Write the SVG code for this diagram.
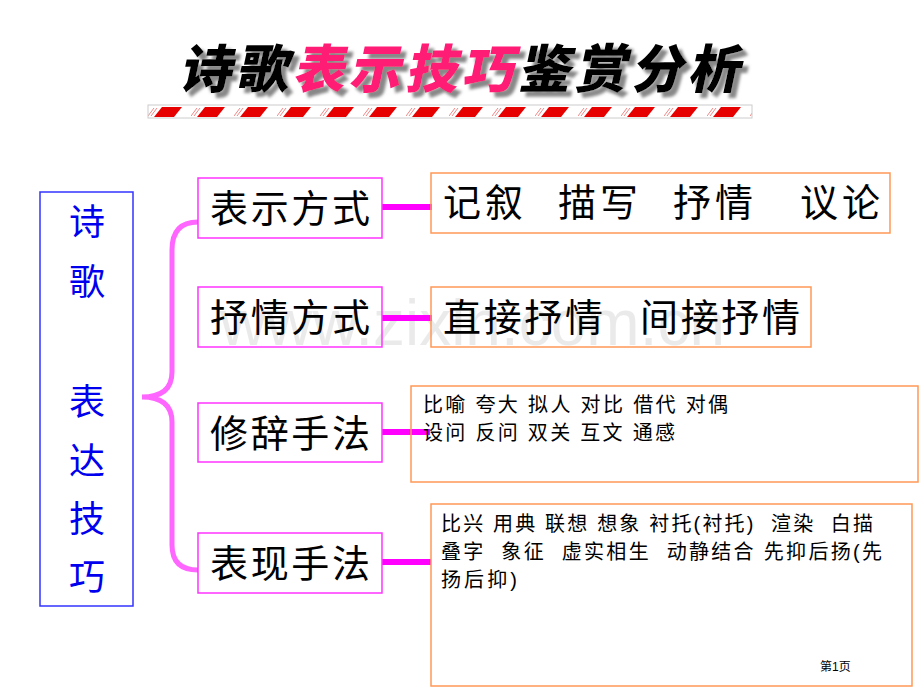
<svg xmlns="http://www.w3.org/2000/svg" width="920" height="690" viewBox="0 0 920 690">
<defs>
<style>
.cjk{font-family:"Liberation Sans","Noto Sans CJK SC",sans-serif;}
.mid{fill:none;stroke:#ff33ff;stroke-width:1.5;}
.rt{fill:none;stroke:#ff9955;stroke-width:1.5;}
.big{font-size:38px;fill:#000;}
.sm{font-size:20px;fill:#000;}
.conn{stroke:#ff00ff;stroke-width:6;fill:none;}
</style>
<pattern id="stripe" x="148" y="105" width="43" height="13" patternUnits="userSpaceOnUse">
<rect width="43" height="13" fill="#fff"/>
<polygon points="6,12 14,2 34,2 26,12" fill="#e60000"/>
<line x1="0" y1="11" x2="6" y2="3" stroke="#e66" stroke-width="0.8"/>
<line x1="3" y1="11" x2="9" y2="3" stroke="#e66" stroke-width="0.8"/>
</pattern>
<filter id="sh" x="-10%" y="-20%" width="130%" height="150%">
<feGaussianBlur in="SourceAlpha" stdDeviation="1.5"/>
<feOffset dx="5" dy="5" result="b"/>
<feFlood flood-color="#888"/>
<feComposite in2="b" operator="in" result="s"/>
<feMerge><feMergeNode in="s"/><feMergeNode in="SourceGraphic"/></feMerge>
</filter>
</defs>
<rect width="920" height="690" fill="#fff"/>
<g id="title" filter="url(#sh)">
<text class="cjk" x="180" y="88" font-size="52" font-weight="900" transform="skewX(-12) translate(18,0)" textLength="560" style="font-family:'Noto Sans CJK SC',sans-serif"><tspan fill="#000">诗歌</tspan><tspan fill="#ff1a75">表示技巧</tspan><tspan fill="#000">鉴赏分析</tspan></text>
</g>
<rect x="148" y="105" width="604" height="13" fill="url(#stripe)" stroke="#ccc" stroke-width="1"/>
<text class="cjk" x="220" y="345" font-size="64" fill="#e6e6e6" opacity="0.8" style="font-family:'Liberation Sans',sans-serif">www.zixin.com.cn</text>
<g id="connectors">
<path d="M198,222 Q172,222 172,250 L172,372 Q172,397 142,397 Q172,397 172,422 L172,545 Q172,570 198,570" style="fill:none;stroke:#ff66ff;stroke-width:5"/>
<line class="conn" x1="382" y1="207" x2="432" y2="207"/>
<line class="conn" x1="382" y1="318" x2="432" y2="318"/>
<line class="conn" x1="382" y1="432" x2="430" y2="432"/>
<line class="conn" x1="382" y1="562" x2="431" y2="562"/>
</g>
<g id="root">
<rect x="40" y="192" width="93" height="414" fill="none" stroke="#3333ff" stroke-width="1.5"/>
<text class="cjk" font-size="36" fill="#0000ee" text-anchor="middle" style="font-family:'Noto Sans CJK SC',sans-serif"><tspan x="87" y="235">诗</tspan><tspan x="87" y="295">歌</tspan><tspan x="87" y="415">表</tspan><tspan x="87" y="474">达</tspan><tspan x="87" y="532">技</tspan><tspan x="87" y="590">巧</tspan></text>
</g>
<g id="n1">
<rect class="mid" x="198" y="178" width="184" height="60"/>
<text class="cjk big" x="210" y="222" textLength="160">表示方式</text>
</g>
<g id="n2">
<rect class="mid" x="198" y="287" width="184" height="60"/>
<text class="cjk big" x="210" y="331" textLength="160">抒情方式</text>
</g>
<g id="n3">
<rect class="mid" x="198" y="403" width="184" height="59"/>
<text class="cjk big" x="210" y="447" textLength="160">修辞手法</text>
</g>
<g id="n4">
<rect class="mid" x="198" y="533" width="184" height="60"/>
<text class="cjk big" x="210" y="577" textLength="160">表现手法</text>
</g>
<g id="r1">
<rect class="rt" x="431" y="173" width="459" height="60"/>
<text class="cjk big"><tspan x="443" y="216" textLength="80">记叙</tspan><tspan x="558" y="216" textLength="80">描写</tspan><tspan x="673" y="216" textLength="80">抒情</tspan><tspan x="800" y="216" textLength="80">议论</tspan></text>
</g>
<g id="r2">
<rect class="rt" x="431" y="287" width="380" height="60"/>
<text class="cjk big"><tspan x="443" y="331" textLength="160">直接抒情</tspan><tspan x="640" y="331" textLength="160">间接抒情</tspan></text>
</g>
<g id="r3">
<rect class="rt" x="411" y="386" width="507" height="96"/>
<text class="cjk sm" xml:space="preserve" x="423" y="412" textLength="305" lengthAdjust="spacing">比喻 夸大 拟人 对比 借代 对偶</text>
<text class="cjk sm" xml:space="preserve" x="423" y="440" textLength="252" lengthAdjust="spacing">设问 反问 双关 互文 通感</text>
</g>
<g id="r4">
<rect class="rt" x="431" y="504" width="481" height="182"/>
<text class="cjk sm" xml:space="preserve" x="441" y="531" textLength="432" lengthAdjust="spacing">比兴 用典 联想 想象 衬托(衬托)  渲染  白描</text>
<text class="cjk sm" xml:space="preserve" x="441" y="559" textLength="441" lengthAdjust="spacing">叠字  象征  虚实相生  动静结合 先抑后扬(先</text>
<text class="cjk sm" x="441" y="587" textLength="76" lengthAdjust="spacing">扬后抑)</text>
</g>
<text class="cjk" x="820" y="671" font-size="12" fill="#000">第1页</text>
</svg>
